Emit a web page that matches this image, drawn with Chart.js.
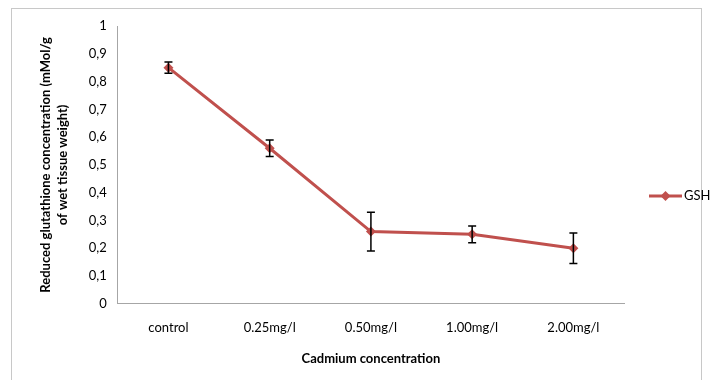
<!DOCTYPE html>
<html>
<head>
<meta charset="utf-8">
<script src="https://cdn.jsdelivr.net/npm/chart.js@4.4.0/dist/chart.umd.min.js"></script>
<style>
  body { margin: 0; background: #fff; }
  #wrap { position: relative; width: 712px; height: 380px; }
  #frame { position: absolute; left: 11px; top: 8px; width: 689px; height: 380px; border: 1px solid #c8c8c8; border-bottom: none; }
  canvas { position: absolute; left: 0; top: 0; }
</style>
</head>
<body>
<div id="wrap">
  <div id="frame"></div>
  <canvas id="myChart" width="712" height="380"></canvas>
</div>
<script>
let labels = ["control", "0.25mg/l", "0.50mg/l", "1.00mg/l", "2.00mg/l"];
let gsh = [0.85, 0.56, 0.26, 0.25, 0.2];
let gshErr = [0.02, 0.03, 0.07, 0.03, 0.055];
const red = "#C0504D";
const font = "Lato, 'Open Sans', sans-serif";

const errorBars = {
  id: "errorBars",
  afterDatasetsDraw(chart) {
    const ctx = chart.ctx;
    const x = chart.scales.x, y = chart.scales.y;
    ctx.save();
    ctx.strokeStyle = "#000";
    ctx.lineWidth = 1.5;
    for (let i = 0; i < gsh.length; i++) {
      const px = x.getPixelForValue(i);
      const top = y.getPixelForValue(gsh[i] + gshErr[i]);
      const bot = y.getPixelForValue(gsh[i] - gshErr[i]);
      ctx.beginPath();
      ctx.moveTo(px, top); ctx.lineTo(px, bot);
      ctx.moveTo(px - 4, top); ctx.lineTo(px + 4, top);
      ctx.moveTo(px - 4, bot); ctx.lineTo(px + 4, bot);
      ctx.stroke();
    }
    ctx.restore();
  }
};

// excel-like legend: line with a diamond, then the series name
const sideLegend = {
  id: "sideLegend",
  afterDraw(chart) {
    const ctx = chart.ctx;
    const ds = chart.data.datasets[0];
    const x0 = chart.chartArea.right + 25;
    const y0 = chart.height / 2 + 6;
    ctx.save();
    ctx.strokeStyle = red; ctx.lineWidth = 3;
    ctx.beginPath(); ctx.moveTo(x0, y0); ctx.lineTo(x0 + 33, y0); ctx.stroke();
    ctx.fillStyle = red;
    ctx.beginPath();
    ctx.moveTo(x0 + 16.5, y0 - 5); ctx.lineTo(x0 + 21.5, y0); ctx.lineTo(x0 + 16.5, y0 + 5); ctx.lineTo(x0 + 11.5, y0);
    ctx.closePath(); ctx.fill();
    ctx.fillStyle = "#000";
    ctx.font = "13px " + font;
    ctx.textBaseline = "middle";
    ctx.fillText(ds.label, x0 + 35, y0);
    ctx.restore();
  }
};

const config = {
  type: "line",
  data: {
    labels: labels,
    datasets: [
      {
        label: "GSH",
        data: gsh,
        borderColor: red,
        backgroundColor: red,
        borderWidth: 3,
        pointStyle: "rectRot",
        pointRadius: 5,
        pointBorderWidth: 0,
        tension: 0,
      },
    ],
  },
  options: {
    responsive: false,
    animation: false,
    layout: { padding: { left: 33, top: 26, right: 88, bottom: 9 } },
    plugins: {
      legend: { display: false },
      tooltip: { enabled: false },
    },
    scales: {
      x: {
        offset: true,
        grid: { display: false, drawTicks: false, offset: true },
        border: { color: "#a6a6a6" },
        ticks: { font: { family: font, size: 13 }, color: "#000", padding: 16 },
        title: { display: true, text: "Cadmium concentration", font: { family: font, size: 13, weight: "bold" }, color: "#000", padding: { top: 0 } },
      },
      y: {
        min: 0,
        max: 1,
        grid: { display: false, drawOnChartArea: false, drawTicks: true, tickLength: 5, tickColor: "#a6a6a6" },
        border: { color: "#a6a6a6" },
        ticks: {
          stepSize: 0.1,
          font: { family: font, size: 13 },
          color: "#000",
          padding: 6,
          callback: (v) => (Math.round(v * 10) / 10).toString().replace(".", ","),
        },
        title: { display: true, text: ["Reduced glutathione concentration (mMol/g", "of wet tissue weight)"], font: { family: font, size: 13, weight: "bold", lineHeight: 1.3 }, color: "#000", padding: { bottom: 12 } },
      },
    },
  },
  plugins: [errorBars, sideLegend],
};
const myChart = new Chart(document.getElementById("myChart"), config);
</script>
</body>
</html>
